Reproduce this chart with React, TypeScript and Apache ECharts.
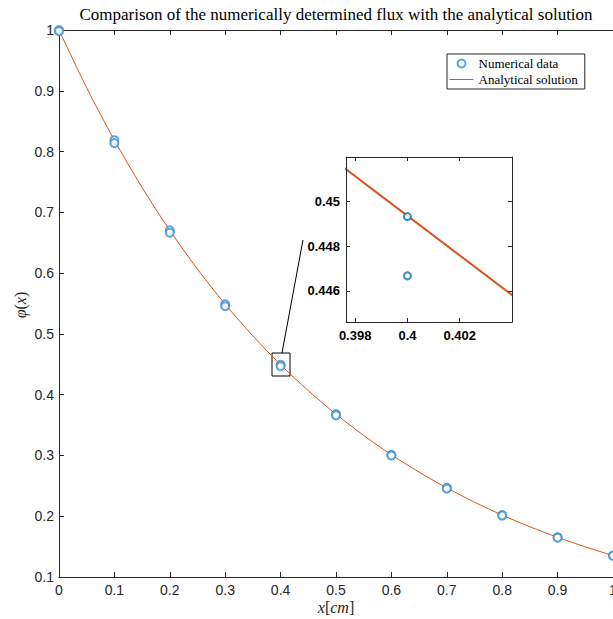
import React, { useEffect, useRef } from "react";
import * as echarts from "echarts";

// ---- data ----
const xNum = [0, 0.1, 0.2, 0.3, 0.4, 0.5, 0.6, 0.7, 0.8, 0.9, 1.0];
const numUpper = [1.0, 0.8187, 0.6703, 0.5488, 0.4493, 0.3679, 0.3012, 0.2466, 0.2019, 0.1653, 0.1353];
const numLower = [0.998, 0.8140, 0.6665, 0.5455, 0.4467, 0.3660, 0.2998, 0.2455, 0.2011, 0.1647, 0.1349];

const xAna = [0, 0.05, 0.1, 0.15, 0.2, 0.25, 0.3, 0.35, 0.4, 0.45, 0.5, 0.55, 0.6, 0.65, 0.7, 0.75, 0.8, 0.85, 0.9, 0.95, 1.0];
const yAna = [1.0, 0.9048, 0.8187, 0.7408, 0.6703, 0.6065, 0.5488, 0.4966, 0.4493, 0.4066, 0.3679, 0.3329, 0.3012, 0.2725, 0.2466, 0.2231, 0.2019, 0.1827, 0.1653, 0.1496, 0.1353];

// inset (zoom) data
const insetNumX = [0.4, 0.4];
const insetNumY = [0.44933, 0.44667];
const insetAnaX = [0.397, 0.405];
const insetAnaY = [0.45203, 0.44492];
const insetXTicks = [0.398, 0.4, 0.402];
const insetYTicks = [0.446, 0.448, 0.45];

// annotation: zoom box and connector (data coordinates)
const zoomBox = [[0.3845, 0.4685], [0.417, 0.4307]];
const connector = [[0.4025, 0.4685], [0.4404, 0.6545]];

const BLUE = "#0072BD";
const ORANGE = "#D95319";
const AXIS = "#262626";

export default function App() {
  const ref = useRef<HTMLDivElement>(null);
  useEffect(() => {
    if (!ref.current) return;
    const chart = echarts.init(ref.current, null, { renderer: "svg" });
    const zip = (xs: number[], ys: number[]) => xs.map((x, i) => [x, ys[i]]);
    const mainAxisCommon = {
      axisLine: { show: true, lineStyle: { color: AXIS, width: 1 } },
      axisTick: { show: true, inside: true, length: 5, lineStyle: { color: AXIS } },
      splitLine: { show: false },
    };
    const insetAxisCommon = {
      axisLine: { show: true, lineStyle: { color: AXIS, width: 1 } },
      splitLine: { show: false },
    };
    chart.setOption({
      animation: false,
      backgroundColor: "#fff",
      grid: [
        { left: 59, top: 30, width: 554, height: 547, containLabel: false, outerBoundsMode: "none" },
        { left: 346, top: 157, width: 166, height: 165, containLabel: false, outerBoundsMode: "none", show: true, backgroundColor: "#fff", borderWidth: 0, z: 10 },
      ],
      xAxis: [
        {
          gridIndex: 0, type: "value", position: "bottom", min: 0, max: 1, interval: 0.1,
          ...mainAxisCommon,
          axisLabel: { color: AXIS, fontFamily: "Liberation Sans", fontSize: 14, margin: 6 },
        },
        {
          gridIndex: 0, type: "value", position: "top", min: 0, max: 1, interval: 0.1,
          ...mainAxisCommon,
          axisLabel: { show: false },
        },
        {
          gridIndex: 1, type: "value", position: "bottom", min: 0.39765, max: 0.404,
          ...insetAxisCommon, z: 12,
          axisTick: { show: true, inside: true, length: 4, customValues: insetXTicks, lineStyle: { color: AXIS } },
          axisLabel: { show: true, customValues: insetXTicks, color: "#000", fontFamily: "Liberation Sans", fontWeight: "bold", fontSize: 13, margin: 7 },
        },
        {
          gridIndex: 1, type: "value", position: "top", min: 0.39765, max: 0.404,
          ...insetAxisCommon, z: 12,
          axisTick: { show: true, inside: true, length: 4, customValues: insetXTicks, lineStyle: { color: AXIS } },
          axisLabel: { show: false },
        },
      ],
      yAxis: [
        {
          gridIndex: 0, type: "value", position: "left", min: 0.1, max: 1, interval: 0.1,
          ...mainAxisCommon,
          axisLabel: { color: AXIS, fontFamily: "Liberation Sans", fontSize: 14, margin: 5 },
        },
        {
          gridIndex: 1, type: "value", position: "left", min: 0.4446, max: 0.4520,
          ...insetAxisCommon, z: 12,
          axisTick: { show: true, inside: true, length: 4, customValues: insetYTicks, lineStyle: { color: AXIS } },
          axisLabel: { show: true, customValues: insetYTicks, color: "#000", fontFamily: "Liberation Sans", fontWeight: "bold", fontSize: 13, margin: 6 },
        },
        {
          gridIndex: 1, type: "value", position: "right", min: 0.4446, max: 0.4520,
          ...insetAxisCommon, z: 12,
          axisTick: { show: true, inside: true, length: 4, customValues: insetYTicks, lineStyle: { color: AXIS } },
          axisLabel: { show: false },
        },
      ],
      legend: {
        data: [
          { name: "Numerical data" },
          { name: "Analytical solution", itemStyle: { opacity: 0 }, lineStyle: { width: 1 } },
        ],
        orient: "vertical",
        left: 447,
        top: 54,
        padding: [3, 7, 3, 2],
        itemGap: 3,
        itemWidth: 24,
        itemHeight: 8,
        borderColor: AXIS,
        borderWidth: 1,
        borderRadius: 0,
        backgroundColor: "#fff",
        textStyle: { fontFamily: "Liberation Serif", fontSize: 13, color: "#000", lineHeight: 13 },
      },
      series: [
        {
          name: "Numerical data",
          type: "scatter",
          xAxisIndex: 0, yAxisIndex: 0,
          data: [...zip(xNum, numUpper), ...zip(xNum, numLower)],
          symbol: "emptyCircle",
          symbolSize: 8,
          clip: false,
          itemStyle: { color: "#3d8fd0", borderColor: "#3d8fd0", borderWidth: 0.9 },
          z: 3,
        },
        {
          name: "Analytical solution",
          type: "line",
          xAxisIndex: 0, yAxisIndex: 0,
          data: zip(xAna, yAna),
          smooth: 0.3,
          showSymbol: false,
          symbol: "none",
          lineStyle: { color: ORANGE, width: 1 },
          itemStyle: { color: ORANGE },
          z: 2,
          markArea: {
            silent: true,
            itemStyle: { color: "rgba(0,0,0,0)", borderColor: "#000", borderWidth: 1 },
            data: [[{ coord: zoomBox[0] }, { coord: zoomBox[1] }]],
          },
          markLine: {
            silent: true,
            symbol: ["none", "none"],
            label: { show: false },
            lineStyle: { color: "#000", type: "solid", width: 1 },
            data: [[{ coord: connector[0] }, { coord: connector[1] }]],
          },
        },
        {
          name: "inset-ana",
          type: "line",
          xAxisIndex: 2, yAxisIndex: 1,
          data: zip(insetAnaX, insetAnaY),
          showSymbol: false,
          symbol: "none",
          clip: true,
          lineStyle: { color: ORANGE, width: 2 },
          z: 11,
        },
        {
          name: "inset-num",
          type: "scatter",
          xAxisIndex: 2, yAxisIndex: 1,
          data: zip(insetNumX, insetNumY),
          symbol: "emptyCircle",
          symbolSize: 7,
          itemStyle: { color: BLUE, borderColor: BLUE, borderWidth: 2 },
          z: 12,
        },
      ],
      graphic: [
        {
          type: "text",
          x: 336, y: 14,
          style: {
            text: "Comparison of the numerically determined flux with the analytical solution",
            textAlign: "center",
            textVerticalAlign: "middle",
            fontFamily: "Liberation Serif",
            fontSize: 17,
            fill: "#000",
          },
        },
        {
          type: "text",
          x: 336, y: 607,
          style: {
            text: "{i|x}{n|[}{i|cm}{n|]}",
            textAlign: "center",
            textVerticalAlign: "middle",
            rich: {
              i: { fontFamily: "Liberation Serif", fontStyle: "italic", fontSize: 16, fill: AXIS },
              n: { fontFamily: "Liberation Serif", fontSize: 16, fill: AXIS },
            },
          },
        },
        {
          type: "text",
          x: 20, y: 305,
          rotation: Math.PI / 2,
          style: {
            text: "{i|φ}{n|(}{i|x}{n|)}",
            textAlign: "center",
            textVerticalAlign: "middle",
            rich: {
              i: { fontFamily: "Liberation Serif", fontStyle: "italic", fontSize: 16, fill: AXIS },
              n: { fontFamily: "Liberation Serif", fontSize: 16, fill: AXIS },
            },
          },
        },
      ],
    });
    return () => chart.dispose();
  }, []);
  return (
    <div style={{ position: "fixed", left: 0, top: 0, width: 613, height: 619, background: "#fff" }}>
      <div ref={ref} style={{ width: 613, height: 619 }} />
    </div>
  );
}
